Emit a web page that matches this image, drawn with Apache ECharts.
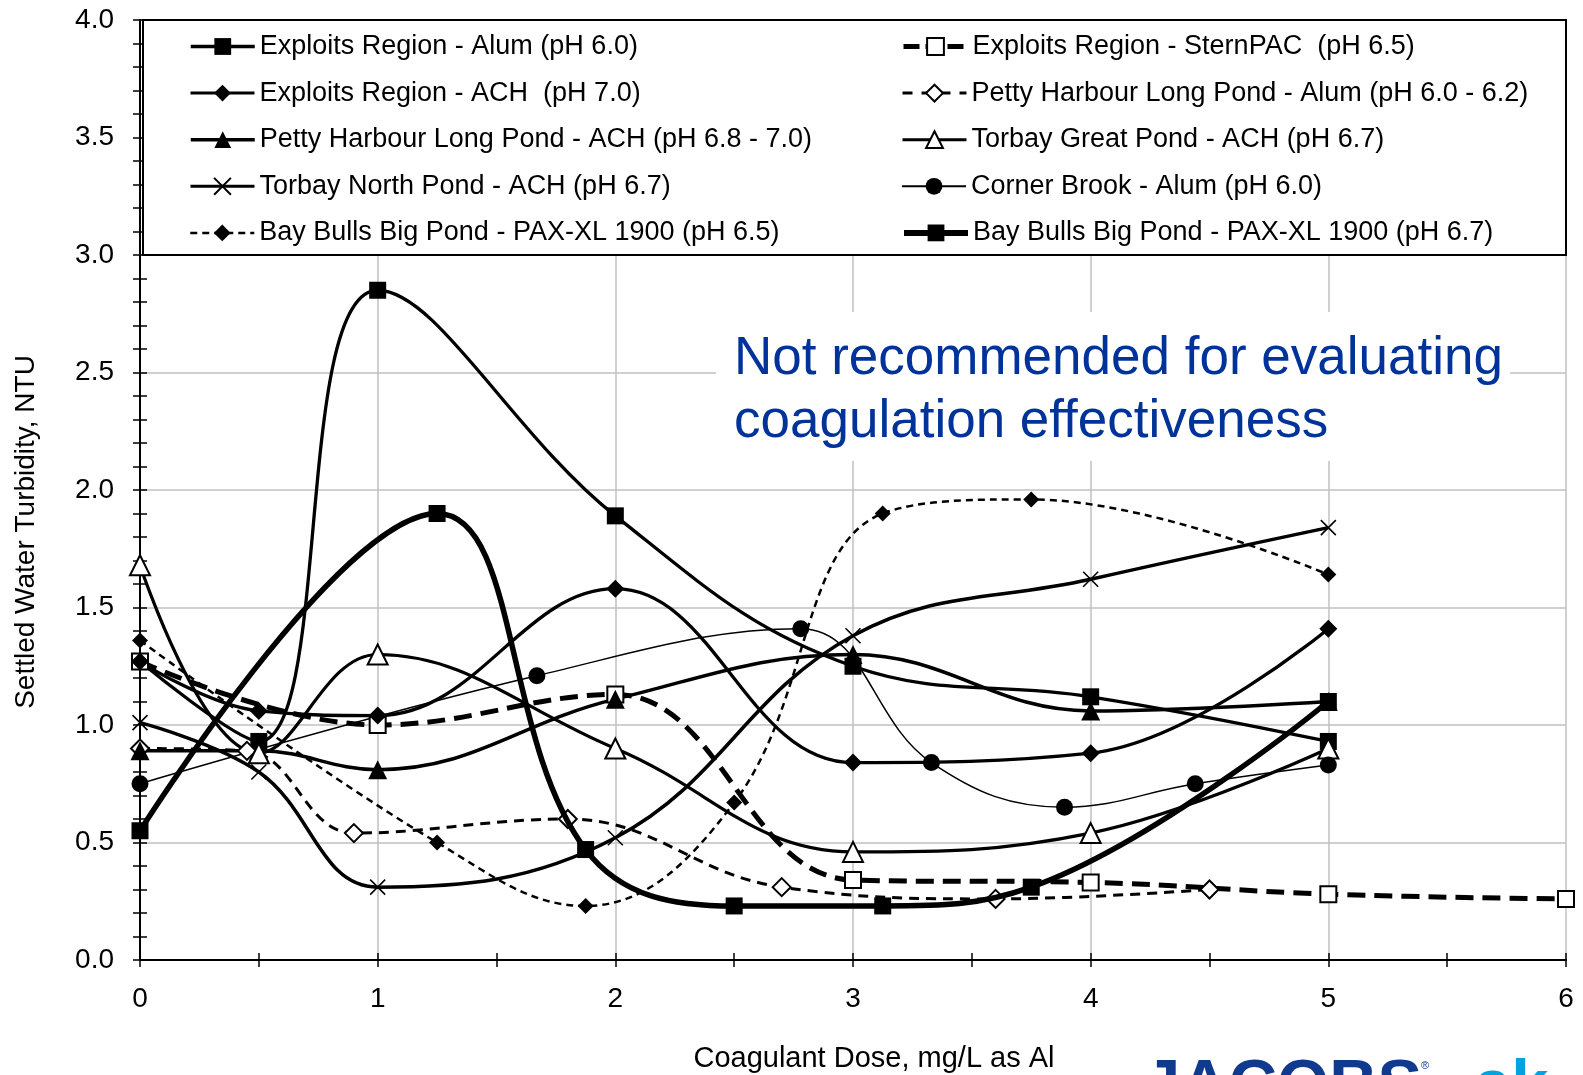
<!DOCTYPE html>
<html><head><meta charset="utf-8">
<script src="https://cdn.jsdelivr.net/npm/echarts@6/dist/echarts.min.js"></script>
<style>html,body{margin:0;padding:0;background:#fff}#c{width:1583px;height:1075px}</style>
</head><body><div id="c"></div>
<script>
// ---- data ----
const seriesNames = [
  'Exploits Region - Alum (pH 6.0)',
  'Exploits Region - SternPAC  (pH 6.5)',
  'Exploits Region - ACH  (pH 7.0)',
  'Petty Harbour Long Pond - Alum (pH 6.0 - 6.2)',
  'Petty Harbour Long Pond - ACH (pH 6.8 - 7.0)',
  'Torbay Great Pond - ACH (pH 6.7)',
  'Torbay North Pond - ACH (pH 6.7)',
  'Corner Brook - Alum (pH 6.0)',
  'Bay Bulls Big Pond - PAX-XL 1900 (pH 6.5)',
  'Bay Bulls Big Pond - PAX-XL 1900 (pH 6.7)'
];
const xExAlum = [0, 0.5, 1, 2, 3, 4, 5];
const yExAlum = [1.27, 0.93, 2.85, 1.89, 1.25, 1.12, 0.93];
const xExStern = [0, 1, 2, 3, 4, 5, 6];
const yExStern = [1.27, 1.00, 1.13, 0.34, 0.33, 0.28, 0.26];
const xExAch = [0, 0.5, 1, 2, 3, 4, 5];
const yExAch = [1.27, 1.06, 1.04, 1.58, 0.84, 0.88, 1.41];
const xPhAlum = [0, 0.45, 0.9, 1.8, 2.7, 3.6, 4.5];
const yPhAlum = [0.90, 0.89, 0.54, 0.60, 0.31, 0.26, 0.30];
const xPhAch = [0, 0.5, 1, 2, 3, 4, 5];
const yPhAch = [0.89, 0.89, 0.81, 1.11, 1.30, 1.06, 1.10];
const xTgp = [0, 0.5, 1, 2, 3, 4, 5];
const yTgp = [1.68, 0.88, 1.30, 0.90, 0.46, 0.54, 0.90];
const xTnp = [0, 0.5, 1, 2, 3, 4, 5];
const yTnp = [1.01, 0.80, 0.31, 0.52, 1.38, 1.62, 1.84];
const xCb = [0, 1.67, 2.78, 3.33, 3.89, 4.44, 5];
const yCb = [0.75, 1.21, 1.41, 0.84, 0.65, 0.75, 0.83];
const xBb65 = [0, 1.25, 1.875, 2.5, 3.125, 3.75, 5];
const yBb65 = [1.36, 0.50, 0.23, 0.67, 1.90, 1.96, 1.64];
const xBb67 = [0, 1.25, 1.875, 2.5, 3.125, 3.75, 5];
const yBb67 = [0.55, 1.90, 0.47, 0.23, 0.23, 0.31, 1.10];
const xTickLabels = ['0', '1', '2', '3', '4', '5', '6'];
const yTickLabels = ['0.0', '0.5', '1.0', '1.5', '2.0', '2.5', '3.0', '3.5', '4.0'];
const xTitle = 'Coagulant Dose, mg/L as Al';
const yTitle = 'Settled Water Turbidity, NTU';
const noteLines = ['Not recommended for evaluating', 'coagulation effectiveness'];

// ---- build ----
const xs = [xExAlum, xExStern, xExAch, xPhAlum, xPhAch, xTgp, xTnp, xCb, xBb65, xBb67];
const ys = [yExAlum, yExStern, yExAch, yPhAlum, yPhAch, yTgp, yTnp, yCb, yBb65, yBb67];
const FONT = '"Liberation Sans", Arial, sans-serif';
const XPATH = 'path://M0,0L16,16M0,16L16,0';
const styles = [
  {symbol: 'rect', size: 17, width: 3.3, type: 'solid', lw: 3.5, ld: 'solid'},
  {symbol: 'emptyRect', size: 16, width: 5, type: [18, 9], lw: 5, ld: [16, 6]},
  {symbol: 'diamond', size: 18, width: 3.3, type: 'solid', lw: 3, ld: 'solid'},
  {symbol: 'emptyDiamond', size: 18, width: 3, type: [10, 7], lw: 3, ld: [10, 9]},
  {symbol: 'triangle', size: 19, width: 3.5, type: 'solid', lw: 3.5, ld: 'solid'},
  {symbol: 'emptyTriangle', size: 20, width: 3.2, type: 'solid', lw: 3, ld: 'solid'},
  {symbol: XPATH, size: 15, width: 3.5, type: 'solid', lw: 3, ld: 'solid'},
  {symbol: 'circle', size: 17, width: 1.5, type: 'solid', lw: 2, ld: 'solid'},
  {symbol: 'diamond', size: 16, width: 2.5, type: [7, 5], lw: 2.5, ld: [7, 5]},
  {symbol: 'rect', size: 17, width: 5.5, type: 'solid', lw: 6, ld: 'solid'}
];
const series = seriesNames.map((name, i) => ({
  name: name,
  type: 'line',
  smooth: 0.4,
  data: xs[i].map((x, j) => [x, ys[i][j]]),
  symbol: styles[i].symbol,
  symbolSize: styles[i].size,
  showAllSymbol: true,
  lineStyle: {color: '#000', width: styles[i].width, type: styles[i].type},
  itemStyle: styles[i].symbol === XPATH
    ? {color: '#000', borderColor: '#000', borderWidth: 1.6}
    : {color: '#000', borderColor: '#000', borderWidth: styles[i].symbol.indexOf('empty') === 0 ? 2 : 0},
  emphasis: {disabled: true},
  z: 2 + (i === 9 ? 1 : 0)
}));

const rowY = [44, 90.6, 137.2, 183.8, 230.4];
const legends = seriesNames.map((name, i) => ({
  data: [name],
  left: (i % 2 === 0) ? 189 : 901,
  top: rowY[Math.floor(i / 2)] - 11,
  padding: 0,
  itemWidth: 64,
  itemHeight: 21,
  selectedMode: false,
  lineStyle: {width: styles[i].lw, type: styles[i].ld, color: '#000'},
  textStyle: {fontSize: 27, color: '#000', fontFamily: FONT},
  z: 5
}));

function axisCommon(extra) {
  return Object.assign({
    type: 'value',
    axisLine: {show: true, onZero: false, lineStyle: {color: '#000', width: 2}},
    axisTick: {show: true, length: 7, lineStyle: {color: '#000', width: 1.5}},
    minorTick: {show: true, length: 7, lineStyle: {color: '#000', width: 1.5}},
  }, extra);
}

const option = {
  backgroundColor: '#fff',
  animation: false,
  grid: {left: 140, right: 17, top: 20, bottom: 115, containLabel: false},
  legend: legends,
  xAxis: [
    axisCommon({min: 0, max: 6, interval: 1, position: 'bottom',
      minorTick: {show: true, splitNumber: 2, length: 7, lineStyle: {color: '#000', width: 1.5}},
      splitLine: {show: true, lineStyle: {color: '#c0c0c0', width: 1.5}},
      axisLabel: {fontSize: 28, color: '#000', fontFamily: FONT, margin: 25,
        formatter: v => xTickLabels[Math.round(v)]}}),
    axisCommon({min: 0, max: 6, interval: 1, position: 'bottom',
      axisTick: {show: true, inside: true, length: 7, lineStyle: {color: '#000', width: 1.5}},
      minorTick: {show: true, splitNumber: 2, length: 7, lineStyle: {color: '#000', width: 1.5}},
      splitLine: {show: false}, axisLabel: {show: false}})
  ],
  yAxis: [
    axisCommon({min: 0, max: 4, interval: 0.5, position: 'left',
      minorTick: {show: true, splitNumber: 5, length: 7, lineStyle: {color: '#000', width: 1.5}},
      splitLine: {show: true, lineStyle: {color: '#c0c0c0', width: 1.5}},
      axisLabel: {fontSize: 28, color: '#000', fontFamily: FONT, margin: 26,
        formatter: v => yTickLabels[Math.round(v * 2)]}}),
    axisCommon({min: 0, max: 4, interval: 0.5, position: 'left',
      axisTick: {show: true, inside: true, length: 7, lineStyle: {color: '#000', width: 1.5}},
      minorTick: {show: true, splitNumber: 5, length: 7, lineStyle: {color: '#000', width: 1.5}},
      splitLine: {show: false}, axisLabel: {show: false}})
  ],
  series: series,
  graphic: [
    {type: 'rect', z: 1, shape: {x: 716, y: 312, width: 794, height: 149}, style: {fill: '#fff'}},
    {type: 'rect', z: 4, shape: {x: 143, y: 20, width: 1423, height: 235}, style: {fill: '#fff', stroke: '#000', lineWidth: 2}},
    {type: 'text', z: 10, x: 734, y: 359, style: {text: noteLines[0], fill: '#003399', font: '53px ' + FONT, align: 'left', verticalAlign: 'middle'}},
    {type: 'text', z: 10, x: 734, y: 422, style: {text: noteLines[1], fill: '#003399', font: '53px ' + FONT, align: 'left', verticalAlign: 'middle'}},
    {type: 'text', z: 10, x: 874, y: 1059, style: {text: xTitle, fill: '#000', font: '29px ' + FONT, align: 'center', verticalAlign: 'middle'}},
    {type: 'text', z: 10, x: 26, y: 532, rotation: Math.PI / 2, style: {text: yTitle, fill: '#000', font: '28px ' + FONT, align: 'center', verticalAlign: 'middle'}},
    {type: 'text', z: 10, x: 1143, y: 1088, style: {text: 'JACOBS', fill: '#103a8e', font: 'bold 67px ' + FONT, align: 'left', verticalAlign: 'middle'}},
    {type: 'text', z: 10, x: 1421, y: 1066, style: {text: '\u00AE', fill: '#103a8e', font: '11px ' + FONT, align: 'left', verticalAlign: 'middle'}},
    {type: 'text', z: 10, x: 1474, y: 1088, style: {text: 'ak', fill: '#00a3e0', font: 'bold 67px ' + FONT, align: 'left', verticalAlign: 'middle'}}
  ]
};
const chart = echarts.init(document.getElementById('c'), null, {renderer: 'canvas'});
chart.setOption(option);
</script></body></html>
